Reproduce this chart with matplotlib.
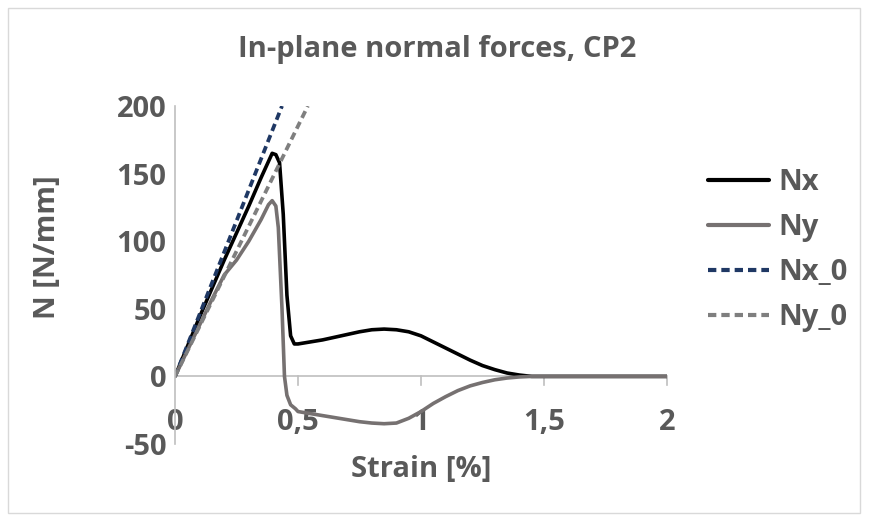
import numpy as np
import matplotlib.pyplot as plt
from matplotlib.patches import Rectangle

plt.rcParams['axes.unicode_minus'] = False

# strain [%] and normal force [N/mm]
nx_strain = [0, 0.05, 0.1, 0.15, 0.2, 0.25, 0.3, 0.35, 0.38, 0.395, 0.41, 0.425, 0.44, 0.455, 0.47,
             0.485, 0.5, 0.55, 0.6, 0.65, 0.7, 0.75, 0.8, 0.85, 0.9, 0.95, 1.0, 1.05, 1.1, 1.15,
             1.2, 1.25, 1.3, 1.35, 1.4, 1.45, 2.0]
nx_force = [0, 22, 44, 65, 86, 106, 126, 147, 159, 165, 164, 158, 120, 60, 30,
            24, 24, 25.5, 27, 29, 31, 33, 34.5, 35, 34.5, 33, 30, 25.5, 21, 16.5,
            12, 8, 5, 2.5, 1, 0, 0]

ny_strain = [0, 0.05, 0.1, 0.15, 0.2, 0.25, 0.3, 0.35, 0.38, 0.395, 0.41, 0.42, 0.435, 0.445, 0.455,
             0.47, 0.49, 0.5, 0.6, 0.7, 0.75, 0.8, 0.85, 0.9, 0.95, 1.0, 1.05, 1.1, 1.15,
             1.2, 1.25, 1.3, 1.35, 1.4, 1.45, 2.0]
ny_force = [0, 19, 38, 57, 75, 86, 100, 116, 127, 130, 126, 110, 50, 0, -14,
            -21, -24, -26, -29, -32, -33.5, -34.5, -35, -34.5, -31, -26, -20, -15, -10.5,
            -7, -4.5, -2.5, -1.2, -0.4, 0, 0]

nx0_strain = [0, 0.435]
nx0_force = [0, 200]
ny0_strain = [0, 0.54]
ny0_force = [0, 200]

txt = '#595959'
font = 'Open Sans'

fig = plt.figure(figsize=(8.71, 5.19), dpi=100)
fig.patches.append(Rectangle((8 / 871, 6 / 519), 852 / 871, 505 / 519, transform=fig.transFigure,
                             fill=False, edgecolor='#d9d9d9', linewidth=1))
ax = fig.add_axes([175 / 871, 1 - 444 / 519, 492 / 871, 338 / 519])

ax.plot(nx_strain, nx_force, color='black', lw=2.6, label='Nx', solid_capstyle='round')
ax.plot(ny_strain, ny_force, color='#767171', lw=2.6, label='Ny', solid_capstyle='round')
ax.plot(nx0_strain, nx0_force, color='#1f3864', lw=2.7, ls=(0, (2.0, 1.2)), label='Nx_0')
ax.plot(ny0_strain, ny0_force, color='#7f7f7f', lw=2.7, ls=(0, (2.0, 1.2)), label='Ny_0')

ax.set_xlim(0, 2)
ax.set_ylim(-50, 200)
ax.set_xticks([0, 0.5, 1, 1.5, 2])
ax.set_xticklabels(['0', '0,5', '1', '1,5', '2'])
ax.set_yticks([-50, 0, 50, 100, 150, 200])

for s in ['top', 'right', 'bottom']:
    ax.spines[s].set_visible(False)
ax.spines['left'].set_color('#bfbfbf')
ax.spines['left'].set_linewidth(1.2)
ax.axhline(0, color='#bfbfbf', lw=1.2, zorder=0.5)

ax.tick_params(axis='y', length=0, pad=6, labelsize=21, labelcolor=txt)
ax.tick_params(axis='x', length=0, pad=23, labelsize=21, labelcolor=txt)
for lab in ax.get_xticklabels() + ax.get_yticklabels():
    lab.set_fontfamily(font)
    lab.set_fontweight('bold')
# x tick labels sit under the zero line, not under the axes bottom
for lab in ax.get_xticklabels():
    lab.set_y(0.2)
for xt in [0.5, 1, 1.5, 2]:
    ax.plot([xt, xt], [0, -6], color='#bfbfbf', lw=1.2, zorder=0.5, clip_on=False)

ax.set_xlabel('Strain [%]', fontsize=21, fontweight='bold', color=txt, family=font, labelpad=8)
fig.text(47 / 871, 1 - 247 / 519, 'N [N/mm]', rotation=90, ha='center', va='center',
         fontsize=21, fontweight='bold', color=txt, family=font)
fig.text(437 / 871, 1 - 50 / 519, 'In-plane normal forces, CP2', ha='center', va='center',
         fontsize=21, fontweight='bold', color=txt, family=font)

leg = ax.legend(loc='upper left', bbox_to_anchor=(1.03, 0.895), frameon=False, handlelength=2.1,
                labelspacing=0.55, handletextpad=0.3,
                prop={'family': font, 'weight': 'bold', 'size': 21})
for t in leg.get_texts():
    t.set_color(txt)
for h in leg.get_lines():
    h.set_linewidth(3.0)

fig.savefig('out.png', dpi=100)
